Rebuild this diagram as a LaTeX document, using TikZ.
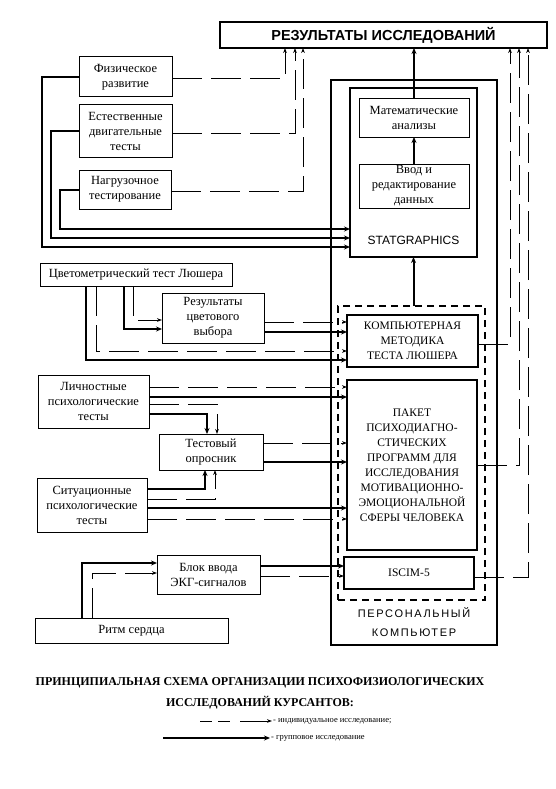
\documentclass[tikz,border=0pt]{standalone}
\usepackage{fontspec}
\setmainfont{Liberation Serif}
\setsansfont{Liberation Sans}
\usetikzlibrary{arrows.meta}
\newcommand\bxfont{\fontsize{12.5}{15}\selectfont}
\newcommand\capfont{\fontsize{11.5}{15}\selectfont}
% \rbox[options]{name}{x1}{y1}{x2}{y2}{text}
\newcommand\rbox[7][]{\node[box,#1,minimum width={(#5-#3)*1pt},minimum height={(#6-#4)*1pt}] (#2) at ({(#3+#5)/2},{(#4+#6)/2}) {#7};}
\begin{document}
\begin{tikzpicture}[x=1pt,y=-1pt,
  box/.style={draw, line width=1pt, inner sep=0pt, outer sep=0pt, align=center, font=\bxfont},
  capbox/.style={line width=1.3pt, font=\capfont},
  grp/.style={line width=2pt, -{Stealth[length=6pt,width=5pt]}},
  ind/.style={line width=0.8pt, dash pattern=on 30pt off 9pt, -{Stealth[length=5pt,width=3.6pt]}}]
\useasboundingbox (0,0) rectangle (556,789);
\fill[white] (0,0) rectangle (556,789);

% top result box
\rbox[line width=1.2pt, font=\sffamily\bfseries\fontsize{14.5}{16}\selectfont]{res}{220}{22}{547}{48}{РЕЗУЛЬТАТЫ ИССЛЕДОВАНИЙ}

% personal computer
\rbox[line width=1.1pt]{pc}{331}{80}{497}{645}{}
\node[font=\sffamily\fontsize{11}{19}\selectfont\addfontfeature{LetterSpace=15}, align=center] (pctxt) at (414,622) {ПЕРСОНАЛЬНЫЙ\\КОМПЬЮТЕР};
\rbox[line width=1.4pt]{stat}{350}{88}{477}{257}{}
\node[font=\sffamily\fontsize{12}{14}\selectfont] (sg) at (413.5,240) {STATGRAPHICS};
\rbox[line width=0.8pt]{mat}{359}{98}{469}{137}{Математические\\анализы}
\rbox[line width=0.9pt]{vvod}{359}{164}{469}{208}{Ввод и\\редактирование\\данных}
\rbox[line width=1.5pt, dash pattern=on 7pt off 5pt]{dbox}{338}{306}{485}{600}{}
\rbox[capbox]{lush}{347}{315}{478}{367}{КОМПЬЮТЕРНАЯ\\МЕТОДИКА\\ТЕСТА ЛЮШЕРА}
\rbox[capbox]{paket}{347}{380}{477}{550}{ПАКЕТ\\ПСИХОДИАГНО-\\СТИЧЕСКИХ\\ПРОГРАММ ДЛЯ\\ИССЛЕДОВАНИЯ\\МОТИВАЦИОННО-\\ЭМОЦИОНАЛЬНОЙ\\СФЕРЫ ЧЕЛОВЕКА}
\rbox[capbox]{iscim}{344}{557}{474}{589}{ISCIM-5}

% left boxes
\rbox{fiz}{79}{57}{172}{97}{Физическое\\развитие}
\rbox{est}{79}{105}{172}{157}{Естественные\\двигательные\\тесты}
\rbox{nag}{79}{170}{171}{209}{Нагрузочное\\тестирование}
\rbox{cvet}{40}{263}{232}{286}{Цветометрический тест Люшера}
\rbox{rezc}{162}{293}{264}{343}{Результаты\\цветового\\выбора}
\rbox{lich}{38}{375}{149}{428}{Личностные\\психологические\\тесты}
\rbox{test}{159}{434}{263}{470}{Тестовый\\опросник}
\rbox{sit}{37}{478}{147}{532}{Ситуационные\\психологические\\тесты}
\rbox[line width=0.8pt]{blok}{157}{555}{260}{594}{Блок ввода\\ЭКГ-сигналов}
\rbox{ritm}{35}{618}{228}{643}{Ритм сердца}

% group (thick) connectors
\draw[grp] (fiz.west) -| (42,247) -- (stat.west |- 0,247);
\draw[grp] (est.west) -| (51,238) -- (stat.west |- 0,238);
\draw[grp] (nag.west) -| (60,229) -- (stat.west |- 0,229);
\draw[grp] (vvod.north) -- (mat.south);
\draw[grp] (mat.north) -- (mat.north |- res.south);
\draw[grp] (dbox.north -| stat.south) -- (stat.south);
\draw[grp] (cvet.south -| 124,0) |- (rezc.west |- 0,329);
\draw[grp] (cvet.south -| 86,0) |- (lush.west |- 0,360);
\draw[grp] (rezc.east |- 0,332) -- (lush.west |- 0,332);
\draw[grp] (lich.east |- 0,397) -- (paket.west |- 0,397);
\draw[grp] (lich.east |- 0,414) -| (test.north -| 207,0);
\draw[grp] (test.east |- 0,462) -- (paket.west |- 0,462);
\draw[grp] (sit.east |- 0,489) -| (test.south -| 205,0);
\draw[grp] (sit.east |- 0,508) -- (paket.west |- 0,508);
\draw[grp] (ritm.north -| 82,0) |- (blok.west |- 0,563);
\draw[grp] (blok.east |- 0,566) -- (iscim.west |- 0,566);

% individual (thin dashed) connectors
\draw[ind] (fiz.east |- 0,78) -| (res.south -| 285,0);
\draw[ind] (est.east |- 0,133) -| (res.south -| 295,0);
\draw[ind] (nag.east |- 0,191) -| (res.south -| 303,0);
\draw[ind] (cvet.south -| 133,0) |- (rezc.west |- 0,320);
\draw[ind] (cvet.south -| 96,0) |- (lush.west |- 0,351);
\draw[ind] (rezc.east |- 0,322) -- (lush.west |- 0,322);
\draw[ind] (lich.east |- 0,387) -- (paket.west |- 0,387);
\draw[ind] (lich.east |- 0,404) -| (test.north -| 217,0);
\draw[ind] (test.east |- 0,443) -- (paket.west |- 0,443);
\draw[ind] (sit.east |- 0,499) -| (test.south -| 215,0);
\draw[ind] (sit.east |- 0,519) -- (paket.west |- 0,519);
\draw[ind] (ritm.north -| 92,0) |- (blok.west |- 0,573);
\draw[ind] (blok.east |- 0,576) -- (iscim.west |- 0,576);
\draw[ind] (lush.east |- 0,344) -| (res.south -| 510,0);
\draw[ind] (paket.east |- 0,465) -| (res.south -| 519,0);
\draw[ind] (iscim.east |- 0,577) -| (res.south -| 528,0);

% caption and legend
\node[font=\bfseries\fontsize{12}{21}\selectfont, align=center] (title) at (260,693) {ПРИНЦИПИАЛЬНАЯ СХЕМА ОРГАНИЗАЦИИ ПСИХОФИЗИОЛОГИЧЕСКИХ\\ИССЛЕДОВАНИЙ КУРСАНТОВ:};
\coordinate (l1s) at (200,721);
\coordinate (l1e) at (272,721);
\draw[ind, dash pattern=on 12pt off 6pt on 12pt off 10pt on 40pt off 10pt] (l1s) -- (l1e);
\node[anchor=west, inner sep=1pt, font=\fontsize{8.5}{10}\selectfont] (l1t) at (l1e) {- индивидуальное исследование;};
\coordinate (l2s) at (163,738);
\coordinate (l2e) at (270,738);
\draw[grp] (l2s) -- (l2e);
\node[anchor=west, inner sep=1pt, font=\fontsize{8.5}{10}\selectfont] (l2t) at (l2e) {- групповое исследование};
\end{tikzpicture}
\end{document}
